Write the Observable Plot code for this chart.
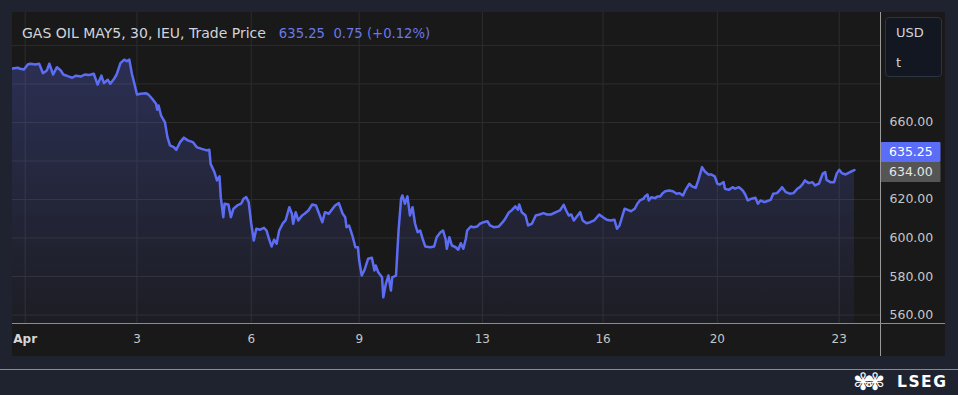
<!DOCTYPE html>
<html><head><meta charset="utf-8">
<script src="https://cdn.jsdelivr.net/npm/d3@7"></script>
<script src="https://cdn.jsdelivr.net/npm/@observablehq/plot@0.6"></script>
<style>
html,body{margin:0;padding:0;background:#1f2330;width:958px;height:395px;overflow:hidden;font-family:"DejaVu Sans",sans-serif;}
#panel{position:absolute;left:12px;top:12px;width:933px;height:344px;background:#191919;}
#chart{position:absolute;left:0;top:0;}
#sep{position:absolute;left:868px;top:0;width:1px;height:344px;background:#9a9a9a;}
#baseline{position:absolute;left:0;top:311px;width:933px;height:1px;background:#8c8c8c;}
#title{position:absolute;left:10px;top:13px;font-size:14px;color:#d1d4dc;white-space:nowrap;line-height:16px;}
#title .v{color:#6a78ea;font-size:13.2px;margin-left:13px;}
#usd{position:absolute;left:873px;top:5px;width:55px;height:58px;border:1px solid #2e3340;border-radius:4px;background:#131722;color:#d1d4dc;font-size:13px;}
#usd div{position:absolute;left:10px;}
#footline{position:absolute;left:0;top:369px;width:958px;height:1px;background:#868b96;}
#logo{position:absolute;left:897px;top:373px;color:#fff;font-weight:bold;font-size:15.5px;letter-spacing:1.5px;line-height:18px;}
#emblem{position:absolute;left:853px;top:370px;color:#fff;font-size:24px;line-height:24px;letter-spacing:-8px;}
</style></head>
<body>
<div id="panel">
  <div id="chart"></div>
  <div id="sep"></div>
  <div id="baseline"></div>
  <div id="title">GAS OIL MAY5, 30, IEU, Trade Price<span class="v">635.25&nbsp;&nbsp;0.75 (+0.12%)</span></div>
  <div id="usd"><div style="top:7px">USD</div><div style="top:37px">t</div></div>
</div>
<div id="footline"></div>
<div id="emblem">✾✾</div>
<div id="logo">LSEG</div>
<script>
const bars = [
  0,4,6,9,12,14,18,21,24,27,
  29,32,35,38,40,44,47,50,54,57,
  60,64,67,70,72,75,77,80,82,85,
  88,90,92,94,96,98,101,105,107,110,
  113,114,115,117,120,122,124,127,129,132,
  135,138,142,145,149,153,155,156,159,161,
  163,164,166,167,170,172,174,177,180,182,
  184,186,188,190,192,195,198,200,202,204,
  206,208,210,213,215,218,220,221,223,225,
  228,230,233,236,239,241,244,246,249,251,
  254,257,260,262,263,265,268,270,272,273,
  275,277,280,283,285,286,288,291,292,294,
  296,298,299,302,304,306,307,309,311,313,
  315,317,319,321,323,325,329,332,334,337,
  339,341,342,344,346,349,351,353,355,357,
  358,361,363,366,368,371,374,376,379,383,
  386,388,391,393,396,398,399,401,404,406,
  409,412,415,418,421,424,428,431,434,436,
  438,440,442,445,447,449,452,455,458,462,
  465,468,471,474,476,478,480,482,484,487,
  490,492,494,497,498,500,501,503,506,508,
  510,512,514,517,520,523,525,528,530,533,
  535,538,540,543,545,548,550,553,555,557,
  560,561,564,567,569,572,575,577,579,582,
  585,587,589,592,594,597,599,602,604,606,
  609,612,615,618,620,622,624,627,630,632,
  635,638,640,641,644,647,649,651,653,656,
  658,661,663
];
const prices = [
  688,688.4,687.9,687.5,690.1,690.5,690.1,690.5,685.6,687.0,
  690.5,684.9,688.7,687.0,684.9,683.9,683.2,684.3,683.9,684.9,
  684.6,685.3,679.7,684.3,680.4,682.2,680.1,682.7,684.9,690.8,
  692.6,691.8,692.6,685.3,680.1,674.5,674.9,675.2,674.5,672.3,
  669.7,666.6,668.8,663.6,660.2,652.4,648.1,647.2,645.8,649.8,
  652.1,650.7,649.8,647.2,646.3,645.5,645.8,638.5,634.2,629.9,
  632.0,621.2,610.8,617.8,617.4,610.8,615.2,616.9,617.8,620.4,
  621.2,618.6,607.4,598.7,604.8,604.3,605.3,603.9,599.6,595.6,
  599.1,597.0,603.9,607.7,609.1,616.0,612.6,607.4,613.4,609.1,
  611.7,612.6,614.3,617.4,616.9,613.4,608.2,613.4,612.6,614.3,
  616.9,618.1,612.6,610.8,605.6,606.5,600.4,595.2,595.2,588.3,
  580.5,583.1,589.2,589.7,583.1,585.7,582.2,579.6,569.2,576.2,
  580.5,572.7,579.6,580.5,603.9,620.4,622.1,617.8,621.6,611.7,
  616.0,607.4,603.0,603.9,599.6,595.6,595.2,595.6,600.4,603.0,
  603.9,599.6,594.4,600.4,596.1,595.2,593.9,597.3,594.4,599.6,
  603.9,606.0,605.6,606.0,607.4,608.2,608.7,606.5,605.6,606.0,
  608.2,610.0,613.4,614.3,616.4,614.7,617.4,613.4,611.7,606.5,
  607.4,611.7,612.2,612.9,612.2,612.2,613.4,614.3,617.2,614.3,
  611.7,612.2,609.1,611.7,613.4,609.1,607.7,608.2,609.1,612.2,
  610.8,609.5,609.1,609.5,604.8,606.5,610.8,615.2,614.7,613.9,
  615.2,617.8,619.5,620.4,621.6,622.6,619.5,621.2,620.7,621.6,
  621.6,623.3,624.3,624.7,624.3,623.0,623.3,622.1,625.0,628.2,
  626.8,626.1,629.9,636.8,634.7,633.0,633.0,632.0,628.2,627.8,
  629.0,625.6,625.0,626.4,625.6,626.4,624.7,622.6,619.5,620.4,
  620.9,617.8,619.5,618.6,619.1,619.8,623.0,623.3,624.7,626.4,
  623.8,623.0,623.3,625.6,626.4,627.8,629.9,628.5,629.0,627.3,
  628.2,633.4,634.2,630.2,629.0,629.0,633.4,635.4,633.7,633.0,
  633.7,634.7,635.25
];
const tickBars = [10, 98, 188, 273, 370, 465, 555, 651];
const tickLabels = ["Apr", "3", "6", "9", "13", "16", "20", "23"];
const yTickValues = [560, 580, 600, 620, 660];
const yGridValues = [560, 580, 600, 620, 640, 660, 680, 700];
const lastPrice = 635.25;
const refPrice = 634.00;

const data = bars.map((b, i) => ({bar: b, price: prices[i]}));
const yMin = 555.6, yMax = 717.1;
const labelOf = new Map(tickBars.map((b, i) => [b, tickLabels[i]]));

const gradDefs = () => {
  const defs = d3.create("svg:defs");
  const g = defs.append("linearGradient").attr("id", "areaGrad")
    .attr("x1", 0).attr("y1", 0).attr("x2", 0).attr("y2", 1);
  g.append("stop").attr("offset", "0%").attr("stop-color", "#5e6cf0").attr("stop-opacity", 0.27);
  g.append("stop").attr("offset", "100%").attr("stop-color", "#5e6cf0").attr("stop-opacity", 0.05);
  return defs.node();
};

const plot = Plot.plot({
  width: 933,
  height: 344,
  marginLeft: 0,
  marginRight: 65,
  marginTop: 0,
  marginBottom: 33,
  style: {background: "transparent", fontFamily: "DejaVu Sans, sans-serif", color: "#c8c8c8"},
  x: {domain: [0, 683.5], axis: null},
  y: {domain: [yMin, yMax], axis: null},
  marks: [
    gradDefs,
    Plot.gridY(yGridValues, {stroke: "#2d2d2d", strokeOpacity: 1}),
    Plot.gridX(tickBars, {stroke: "#2d2d2d", strokeOpacity: 1}),
    Plot.areaY(data, {x: "bar", y1: () => yMin, y2: "price", fill: "url(#areaGrad)"}),
    Plot.lineY(data, {x: "bar", y: "price", stroke: "#5d6df3", strokeWidth: 2.5, strokeLinejoin: "round"}),
    Plot.axisY({anchor: "right", label: null, ticks: yTickValues, tickSize: 0, tickPadding: 9, fontSize: 12.5,
      fill: "#c6c6c6", tickFormat: d => d.toFixed(2)}),
    Plot.axisX({anchor: "bottom", label: null, ticks: tickBars.slice(1), tickSize: 0, tickPadding: 11, fontSize: 12,
      fill: "#c6c6c6", tickFormat: d => labelOf.get(d)}),
    Plot.axisX({anchor: "bottom", label: null, ticks: tickBars.slice(0, 1), tickSize: 0, tickPadding: 11, fontSize: 12,
      fontWeight: "bold", fill: "#d6d6d6", tickFormat: d => labelOf.get(d)})
  ]
});
document.getElementById("chart").appendChild(plot);

// price label boxes on the right axis, positioned with the plot's y scale
const ys = plot.scale("y");
const svg = d3.select(plot);
const yRef = ys.apply(refPrice);
const boxes = [
  {y: yRef - 10, fill: "#555555", text: refPrice.toFixed(2), color: "#e6e6e6"},
  {y: yRef - 30, fill: "#5b6cf6", text: lastPrice.toFixed(2), color: "#ffffff"}
];
const gb = svg.append("g").attr("text-anchor", "start");
boxes.forEach(b => {
  gb.append("rect").attr("x", 868.5).attr("y", b.y).attr("width", 60).attr("height", 20).attr("fill", b.fill).attr("rx", 1);
  gb.append("text").attr("x", 877).attr("y", b.y + 10).attr("dy", "0.35em").attr("fill", b.color)
    .attr("font-size", 12.5).attr("font-family", "DejaVu Sans, sans-serif").text(b.text);
});
</script>
</body></html>
